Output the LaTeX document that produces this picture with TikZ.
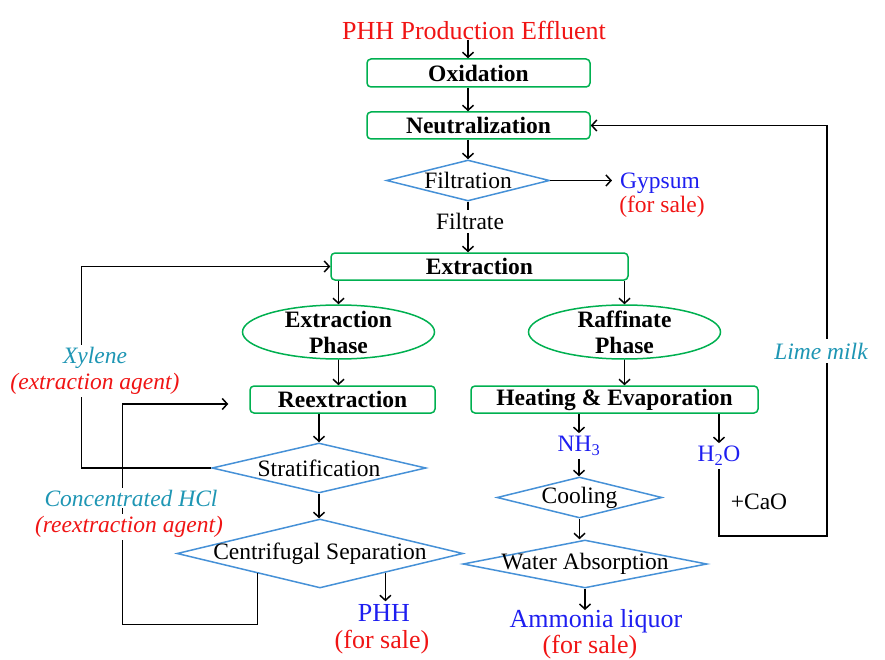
\documentclass[tikz,border=0pt]{standalone}
\usepackage{fontspec}
\setmainfont{Liberation Serif}
\usepackage{tikz}
\usetikzlibrary{shapes,positioning,calc}
\usetikzlibrary{shapes.geometric, arrows}
\usetikzlibrary{arrows.meta}
\definecolor{boxgreen}{RGB}{0,176,80}
\definecolor{diablue}{RGB}{70,145,215}
\definecolor{labteal}{RGB}{30,150,180}
\definecolor{prodblue}{RGB}{30,30,240}
\definecolor{prodred}{RGB}{240,20,20}
\tikzstyle{arrow} = [line width=1.5pt,->,>={Straight Barb[length=5pt,width=11pt]}]
\newcommand{\basefont}{\fontsize{23.5}{26}\selectfont}
\newcommand{\bigfont}{\fontsize{26}{29}\selectfont}
\newcommand{\nowidth}[1]{\makebox[0pt]{#1}}

\begin{document}
\begin{tikzpicture}[x=1pt,y=-1pt,
	every node/.style={font=\basefont},
	process/.style={rectangle, draw=boxgreen, line width=1.5pt, rounded corners=4pt, minimum height=27pt, inner sep=0pt, font=\basefont\bfseries},
	phase/.style={ellipse, draw=boxgreen, line width=1.5pt, minimum width=192pt, minimum height=54pt, inner sep=0pt},
	cond/.style={diamond, draw=diablue, line width=1.5pt, inner sep=0pt},
	tag/.style={inner sep=3pt},
	agent/.style={inner sep=2pt, fill=white, font=\basefont\itshape}]
	\useasboundingbox (0,0) rectangle (885,660);
	
	% MAIN LINE
	
	\node [tag, inner sep=1pt, text=prodred, font=\bigfont] (effluent) at (474,30) {PHH Production Effluent};
	\node [process, minimum width=223pt, minimum height=28pt] (oxid) at (478.5,73) {Oxidation};
	\node [process, minimum width=223pt] (neut) at (478.5,125.5) {Neutralization};
	\node [cond, minimum width=163pt, minimum height=41pt] (filt) at (468,180.5) {\nowidth{Filtration}};
	\node [tag, inner sep=8pt, text=prodblue] (gypsum) at (660,183) {Gypsum};
	\node [tag, text=prodred] (gypsumsale) at (662,207) {(for sale)};
	\node [tag] (filtrate) at (470,221.5) {Filtrate};
	\node [process, minimum width=297pt] (extr) at (479.5,266.5) {Extraction};
	
	% LEFT BRANCH
	
	\node [phase, label={[font=\basefont\bfseries, align=center]center:Extraction\\Phase}] (ephase) at (338.5,332) {};
	\node [process, minimum width=185pt] (reex) at (342.5,399.5) {Reextraction};
	\node [cond, minimum width=214pt, minimum height=50pt] (strat) at (319,468) {\nowidth{Stratification}};
	\node [cond, minimum width=286pt, minimum height=69pt] (cent) at (320,553.5) {\nowidth{Centrifugal Separation}};
	\node [tag, text=prodblue, font=\bigfont] (phh) at (384,613) {PHH};
	\node [tag, inner sep=1pt, text=prodred, font=\bigfont] (phhsale) at (382,642) {(for sale)};
	\coordinate (hclout) at ($(cent.west)!0.566!(cent.south)$);
	\coordinate (phhout) at ($(cent.south)!0.455!(cent.east)$);
	\coordinate (hclin) at ($(reex.west)+(-21,4.5)$);
	
	% RIGHT BRANCH
	
	\node [phase, label={[font=\basefont\bfseries, align=center]center:Raffinate\\Phase}] (rphase) at (624.5,332) {};
	\node [process, minimum width=287pt] (heat) at (614.5,399.5) {Heating \& Evaporation};
	\node [tag, text=prodblue] (nh3) at (579,446) {NH\textsubscript{3}};
	\node [tag, text=prodblue] (h2o) at (719,456) {H\textsubscript{2}O};
	\node [cond, minimum width=165pt, minimum height=41pt] (cool) at (579.5,497.5) {\nowidth{Cooling}};
	\node [cond, minimum width=244pt, minimum height=48pt] (water) at (585,564) {\nowidth{Water Absorption}};
	\node [tag, inner sep=1pt, text=prodblue, font=\bigfont] (ammonia) at (596,621) {Ammonia liquor};
	\node [tag, inner sep=1pt, text=prodred, font=\bigfont] (ammoniasale) at (590,647) {(for sale)};
	
	% ARROWS
	
	\draw [arrow] (effluent.south -| filt) -- (oxid.north -| filt);
	\draw [arrow] (oxid.south -| filt) -- (neut.north -| filt);
	\draw [arrow] (neut.south -| filt) -- (filt.north);
	\draw [arrow] (filt.east) -- (filt.east -| gypsum.west);
	\draw [line width=1.5pt] (filt.south) -- (filt.south |- filtrate.north);
	\draw [arrow] (filtrate.south -| filt) -- (extr.north -| filt);
	\draw [arrow] (extr.south -| ephase) -- (ephase.north);
	\draw [arrow] (ephase.south) -- (ephase.south |- reex.north);
	\draw [arrow] (reex.south -| strat) -- (strat.north);
	\draw [arrow] (strat.south) -- (strat.south |- cent.north);
	\draw [arrow] (phhout) -- (phhout |- phh.north);
	\draw [arrow] (extr.south -| rphase) -- (rphase.north);
	\draw [arrow] (rphase.south) -- (rphase.south |- heat.north);
	\draw [arrow] (heat.south -| nh3) -- (nh3.north);
	\draw [arrow] (nh3.south) -- (nh3.south |- cool.north);
	\draw [arrow] (cool.south) -- (cool.south |- water.north);
	\draw [arrow] (water.south) -- ([yshift=-2pt]water.south |- ammonia.north);
	\draw [arrow] (heat.south -| h2o) -- (h2o.north);
	
	% RECYCLE LOOPS
	
	\draw [arrow] (strat.west) -- ++(-130,0) |- (extr.west);
	\draw [arrow] (hclout) -- ++(0,51) -- ++(-135,0) |- (hclin);
	\draw [arrow] (h2o.south) -- ++(0,67) -- ++(108,0) |- (neut.east);
	
	\node [agent, text=labteal] (xylene) at (95,358) {Xylene};
	\node [agent, text=prodred] (xyleneuse) at (95,384) {(extraction agent)};
	\node [agent, text=labteal] (hcl) at (131,498) {Concentrated HCl};
	\node [agent, text=prodred] (hcluse) at (129,527) {(reextraction agent)};
	\node [agent, inner sep=4pt, text=labteal] (limemilk) at (821,351) {Lime milk};
	\node [tag] (cao) at (759,502) {+CaO};
	
\end{tikzpicture}
\end{document}
